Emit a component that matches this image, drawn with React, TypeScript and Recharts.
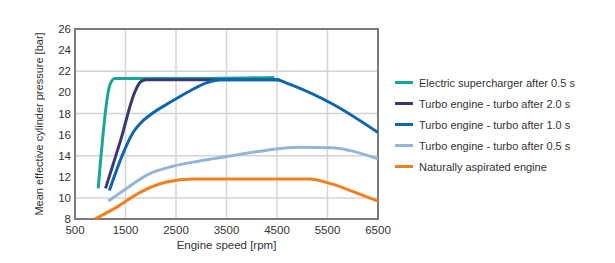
import { LineChart, Line, XAxis, YAxis, CartesianGrid, ReferenceArea } from 'recharts';

const xTicks = [500, 1500, 2500, 3500, 4500, 5500, 6500];
const yTicks = [8, 10, 12, 14, 16, 18, 20, 22, 24, 26];

const electricSupercharger = [
  { rpm: 960, bar: 10.9 },
  { rpm: 1190, bar: 20.7 },
  { rpm: 1290, bar: 21.3 },
  { rpm: 2500, bar: 21.3 },
  { rpm: 4450, bar: 21.4 },
];

const turbo20 = [
  { rpm: 1105, bar: 10.9 },
  { rpm: 1400, bar: 15.4 },
  { rpm: 1690, bar: 20.1 },
  { rpm: 1800, bar: 21.0 },
  { rpm: 1910, bar: 21.2 },
  { rpm: 3000, bar: 21.2 },
  { rpm: 4550, bar: 21.2 },
];

const turbo10 = [
  { rpm: 1180, bar: 10.7 },
  { rpm: 1450, bar: 14.2 },
  { rpm: 1650, bar: 16.2 },
  { rpm: 1800, bar: 17.1 },
  { rpm: 2000, bar: 17.9 },
  { rpm: 2400, bar: 19.1 },
  { rpm: 2800, bar: 20.2 },
  { rpm: 3100, bar: 20.9 },
  { rpm: 3400, bar: 21.2 },
  { rpm: 4500, bar: 21.2 },
  { rpm: 4680, bar: 20.9 },
  { rpm: 5600, bar: 18.9 },
  { rpm: 6500, bar: 16.2 },
];

const turbo05 = [
  { rpm: 1160, bar: 9.7 },
  { rpm: 1490, bar: 10.8 },
  { rpm: 1980, bar: 12.3 },
  { rpm: 2440, bar: 13.0 },
  { rpm: 2970, bar: 13.5 },
  { rpm: 3490, bar: 13.9 },
  { rpm: 4280, bar: 14.5 },
  { rpm: 4940, bar: 14.8 },
  { rpm: 5600, bar: 14.75 },
  { rpm: 5930, bar: 14.5 },
  { rpm: 6500, bar: 13.7 },
];

const naturallyAspirated = [
  { rpm: 895, bar: 8.0 },
  { rpm: 1320, bar: 9.1 },
  { rpm: 1780, bar: 10.5 },
  { rpm: 2310, bar: 11.5 },
  { rpm: 2840, bar: 11.8 },
  { rpm: 4000, bar: 11.8 },
  { rpm: 5140, bar: 11.8 },
  { rpm: 5600, bar: 11.3 },
  { rpm: 6060, bar: 10.5 },
  { rpm: 6500, bar: 9.7 },
];

const series = [
  { name: 'Electric supercharger after 0.5 s', data: electricSupercharger, color: '#16a796' },
  { name: 'Turbo engine - turbo after 2.0 s', data: turbo20, color: '#363a6e' },
  { name: 'Turbo engine - turbo after 1.0 s', data: turbo10, color: '#0f66b0' },
  { name: 'Turbo engine - turbo after 0.5 s', data: turbo05, color: '#93b5d8' },
  { name: 'Naturally aspirated engine', data: naturallyAspirated, color: '#f17f1e' },
];

const font = '"Liberation Sans", Arial, sans-serif';

const LegendBox = () => (
  <div style={{ position: 'absolute', left: 395, top: 72, fontFamily: font, fontSize: 11, color: '#333' }}>
    {series.map((s) => (
      <div key={s.name} style={{ display: 'flex', alignItems: 'center', height: 21 }}>
        <span style={{ display: 'inline-block', width: 18, height: 3, background: s.color, marginRight: 6 }} />
        <span>{s.name}</span>
      </div>
    ))}
  </div>
);

const App = () => {
  return (
    <div style={{ position: 'absolute', left: 0, top: 0, width: 615, height: 263, background: '#fff' }}>
      <LineChart width={615} height={263} margin={{ top: 29, right: 237, bottom: 0, left: 0 }}>
        <CartesianGrid stroke="#d4d4d4" strokeWidth={1.5} />
        <XAxis
          type="number"
          dataKey="rpm"
          domain={[500, 6500]}
          ticks={xTicks}
          height={44}
          tickLine={false}
          axisLine={false}
          tickSize={0}
          tickMargin={7}
          tick={{ fill: '#333', fontSize: 11.5, fontFamily: font }}
          label={{ value: 'Engine speed [rpm]', position: 'center', dy: 4, fill: '#333', fontSize: 11.5, fontFamily: font }}
          allowDuplicatedCategory={false}
        />
        <YAxis
          type="number"
          dataKey="bar"
          domain={[8, 26]}
          ticks={yTicks}
          width={75}
          tickLine={false}
          axisLine={false}
          tickSize={0}
          tickMargin={4}
          tick={{ fill: '#333', fontSize: 11.5, fontFamily: font }}
          label={{ value: 'Mean effective cylinder pressure [bar]', angle: -90, position: 'center', dx: 2, fill: '#333', fontSize: 11, fontFamily: font }}
        />
        <ReferenceArea x1={500} x2={6500} y1={8} y2={26} fill="none" stroke="#7a7a7a" strokeWidth={2} ifOverflow="visible" />
        {series.map((s) => (
          <Line
            key={s.name}
            data={s.data}
            dataKey="bar"
            name={s.name}
            type="monotone"
            stroke={s.color}
            strokeWidth={3}
            dot={false}
            activeDot={false}
            isAnimationActive={false}
          />
        ))}
      </LineChart>
      <LegendBox />
    </div>
  );
};

export default App;
